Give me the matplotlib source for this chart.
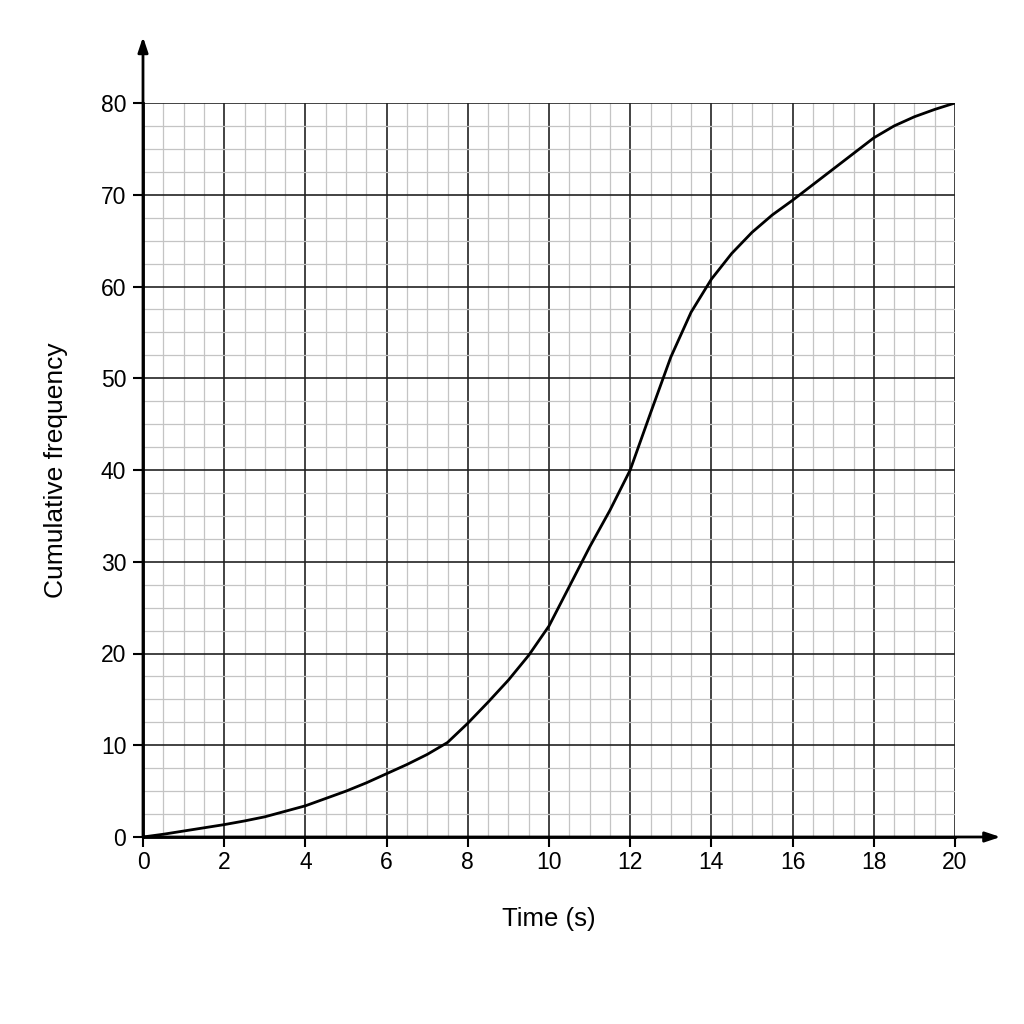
import numpy as np
import matplotlib
matplotlib.use('Agg')
import matplotlib.pyplot as plt
from matplotlib.ticker import MultipleLocator

# values
time_s = [0, 0.5, 1, 1.5, 2, 2.5, 3, 3.5, 4, 4.5, 5, 5.5, 6, 6.5, 7, 7.5, 8, 8.5, 9, 9.5,
          10, 10.5, 11, 11.5, 12, 12.5, 13, 13.5, 14, 14.5, 15, 15.5, 16, 16.5, 17, 17.5,
          18, 18.5, 19, 19.5, 20]
cum_freq = [0, 0.3, 0.65, 1.0, 1.35, 1.75, 2.2, 2.8, 3.4, 4.2, 5.0, 5.9, 6.9, 7.9, 9.0, 10.3,
            12.4, 14.7, 17.1, 19.8, 23.0, 27.3, 31.6, 35.6, 40.0, 46.2, 52.3, 57.2, 60.8,
            63.6, 65.9, 67.8, 69.4, 71.1, 72.8, 74.5, 76.2, 77.5, 78.5, 79.3, 80.0]

x_ticks = [0, 2, 4, 6, 8, 10, 12, 14, 16, 18, 20]
y_ticks = [0, 10, 20, 30, 40, 50, 60, 70, 80]

plt.rcParams['font.family'] = ['Liberation Sans', 'DejaVu Sans']

fig = plt.figure(figsize=(10.24, 10.24), dpi=100)
ax = fig.add_axes([143 / 1024, 1 - 837 / 1024, (955 - 143) / 1024, (837 - 103) / 1024])

ax.set_xlim(0, 20)
ax.set_ylim(0, 80)

# graph paper grid
ax.xaxis.set_minor_locator(MultipleLocator(0.5))
ax.yaxis.set_minor_locator(MultipleLocator(2.5))
ax.set_xticks(x_ticks)
ax.set_yticks(y_ticks)
ax.grid(which='minor', color='#c4c4c4', linewidth=0.9)
ax.grid(which='major', color='#222222', linewidth=1.2)
ax.set_axisbelow(True)

ax.plot(time_s, cum_freq, color='black', linewidth=2, solid_capstyle='round', zorder=3)

for s in ['top', 'right']:
    ax.spines[s].set_visible(False)
ax.spines['left'].set_linewidth(2)
ax.spines['bottom'].set_linewidth(2)

# arrowheads on the axes
ax.annotate('', xy=(0, 1.09), xytext=(0, 0), xycoords='axes fraction',
            arrowprops=dict(arrowstyle='-|>,head_length=0.9,head_width=0.3', color='black', lw=2,
                            shrinkA=0, shrinkB=0), annotation_clip=False)
ax.annotate('', xy=(1.056, 0), xytext=(0, 0), xycoords='axes fraction',
            arrowprops=dict(arrowstyle='-|>,head_length=0.9,head_width=0.3', color='black', lw=2,
                            shrinkA=0, shrinkB=0), annotation_clip=False)

ax.tick_params(which='major', length=7, width=1.5, labelsize=16.5, pad=3, color='black')
ax.tick_params(axis='y', pad=5)
ax.tick_params(which='minor', length=0)

ax.set_xlabel('Time (s)', fontsize=18.5, labelpad=24)
ax.set_ylabel('Cumulative frequency', fontsize=19, labelpad=24)

fig.savefig('out.png', dpi=100, facecolor='white')
